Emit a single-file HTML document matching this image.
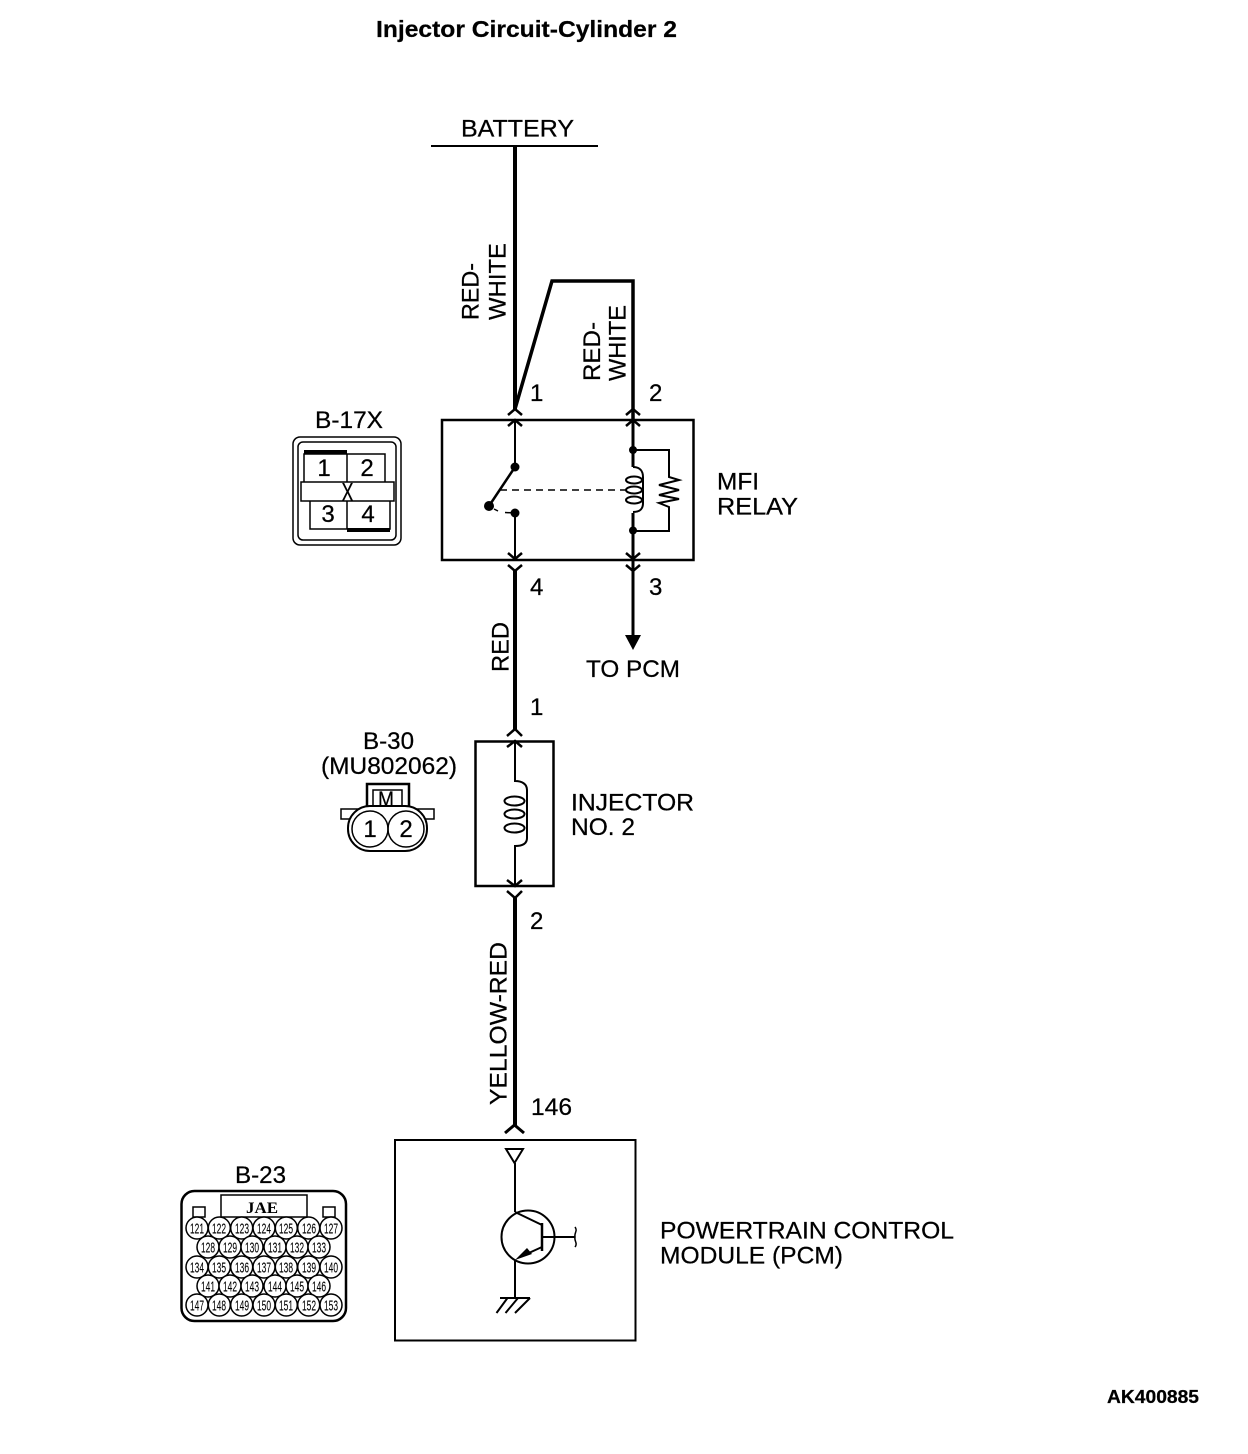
<!DOCTYPE html>
<html>
<head>
<meta charset="utf-8">
<style>
html,body{margin:0;padding:0;background:#fff}
svg{display:block}
text{font-family:"Liberation Sans",sans-serif;fill:#000;stroke:#000;stroke-width:.25px}
.t{font-size:24px}
.n{font-size:15px;stroke-width:.1px}
.c{text-anchor:middle}
</style>
</head>
<body>
<svg xmlns="http://www.w3.org/2000/svg" width="1248" height="1454" viewBox="0 0 1248 1454">
<rect width="1248" height="1454" fill="#fff"/>

<!-- headings -->
<text x="376" y="37" font-size="23" font-weight="bold" textLength="301" lengthAdjust="spacingAndGlyphs">Injector Circuit-Cylinder 2</text>
<text x="1107" y="1403" font-size="18" font-weight="bold" textLength="92" lengthAdjust="spacingAndGlyphs">AK400885</text>

<!-- main labels -->
<text class="t" x="461" y="136.500" textLength="113" lengthAdjust="spacingAndGlyphs">BATTERY</text>
<text class="t" x="717" y="489.500" textLength="42" lengthAdjust="spacingAndGlyphs">MFI</text>
<text class="t" x="717" y="514.500" textLength="81" lengthAdjust="spacingAndGlyphs">RELAY</text>
<text class="t" x="586" y="677" textLength="94" lengthAdjust="spacingAndGlyphs">TO PCM</text>
<text class="t" x="571" y="810.500" textLength="123" lengthAdjust="spacingAndGlyphs">INJECTOR</text>
<text class="t" x="571" y="835" textLength="64" lengthAdjust="spacingAndGlyphs">NO. 2</text>
<text class="t" x="660" y="1238.500" textLength="294" lengthAdjust="spacingAndGlyphs">POWERTRAIN CONTROL</text>
<text class="t" x="660" y="1263.500" textLength="183" lengthAdjust="spacingAndGlyphs">MODULE (PCM)</text>
<text class="t" x="315" y="428" textLength="68" lengthAdjust="spacingAndGlyphs">B-17X</text>
<text class="t" x="363" y="749" textLength="51" lengthAdjust="spacingAndGlyphs">B-30</text>
<text class="t" x="321" y="774" textLength="136" lengthAdjust="spacingAndGlyphs">(MU802062)</text>
<text class="t" x="235" y="1183" textLength="51" lengthAdjust="spacingAndGlyphs">B-23</text>

<!-- pin numbers -->
<text class="t" x="530" y="401">1</text>
<text class="t" x="649" y="401">2</text>
<text class="t" x="530" y="595">4</text>
<text class="t" x="649" y="595">3</text>
<text class="t" x="530" y="715">1</text>
<text class="t" x="530" y="929">2</text>
<text class="t" x="531" y="1115" textLength="41" lengthAdjust="spacingAndGlyphs">146</text>

<!-- rotated wire labels -->
<text class="t" transform="translate(478.500,320) rotate(-90)" textLength="57" lengthAdjust="spacingAndGlyphs">RED-</text>
<text class="t" transform="translate(505.500,320) rotate(-90)" textLength="77" lengthAdjust="spacingAndGlyphs">WHITE</text>
<text class="t" transform="translate(600,381) rotate(-90)" textLength="59" lengthAdjust="spacingAndGlyphs">RED-</text>
<text class="t" transform="translate(625.500,381) rotate(-90)" textLength="76" lengthAdjust="spacingAndGlyphs">WHITE</text>
<text class="t" transform="translate(508.500,672) rotate(-90)" textLength="50" lengthAdjust="spacingAndGlyphs">RED</text>
<text class="t" transform="translate(506.500,1105) rotate(-90)" textLength="163" lengthAdjust="spacingAndGlyphs">YELLOW-RED</text>

<!-- battery bar and wires -->
<g fill="none" stroke="#000">
<path d="M431 146H598" stroke-width="2"/>
<path d="M515 146V410" stroke-width="4"/>
<path d="M515 409L552 281H633V420" stroke-width="3.500"/>
<path d="M515 571V729" stroke-width="4"/>
<path d="M515 898V1125" stroke-width="4"/>
<path d="M633 560V636" stroke-width="3"/>

<!-- boxes -->
<rect x="442" y="420" width="251.500" height="140" stroke-width="2.500"/>
<rect x="475.500" y="741.500" width="78" height="144.500" stroke-width="2.500"/>
<rect x="395" y="1140" width="240.500" height="200.500" stroke-width="2"/>

<!-- chevrons -->
<g stroke-width="2.500">
<path d="M508 415L515 409L522 415M508 426L515 420L522 426"/>
<path d="M626 415L633 409L640 415M626 426L633 420L640 426"/>
<path d="M508 553L515 559L522 553M508 565L515 571L522 565"/>
<path d="M626 553L633 559L640 553M626 565L633 571L640 565"/>
<path d="M507 736L515 729L522 736M507 747L515 741L522 747"/>
<path d="M507 880L515 886L522 880M507 891L515 898L522 891"/>
<path d="M505 1133L514.500 1125L524 1133" stroke-width="3"/>
</g>

<!-- relay switch -->
<path d="M515 420V467" stroke-width="2"/>
<path d="M515 513V560" stroke-width="2"/>
<path d="M515 467L489 506" stroke-width="2.500"/>
<path d="M494 509L498 511M505 512.500L515 513" stroke-width="1.500"/>
<path d="M500 490H630" stroke-width="1.500" stroke-dasharray="7 5"/>

<!-- relay coil and resistor -->
<path d="M633 420V467M633 513V560" stroke-width="3"/>
<path d="M633 467C640 467 643 471 643 477V503C643 509 640 512 633 512" stroke-width="2"/>
<ellipse cx="634" cy="480" rx="8" ry="3.500" stroke-width="2"/>
<ellipse cx="634" cy="490" rx="8" ry="3.500" stroke-width="2"/>
<ellipse cx="634" cy="500" rx="8" ry="3.500" stroke-width="2"/>
<path d="M633 450H669V477L679 480L659 485L679 490L659 495L679 499L659 503L669 507V531H633" stroke-width="2"/>

<!-- injector coil -->
<path d="M515 741V781C522 781 527 784 527 790V838C527 844 522 846 515 846V886" stroke-width="2"/>
<ellipse cx="514.500" cy="801" rx="10" ry="4.500" stroke-width="2"/>
<ellipse cx="514.500" cy="814" rx="10" ry="4.500" stroke-width="2"/>
<ellipse cx="514.500" cy="828" rx="10" ry="4.500" stroke-width="2"/>

<!-- transistor -->
<path d="M506 1149H523L514.500 1163Z" stroke-width="2"/>
<path d="M515 1163V1212" stroke-width="2"/>
<circle cx="528" cy="1237" r="26.500" stroke-width="2"/>
<path d="M515 1212L542 1225" stroke-width="2"/>
<path d="M542 1223V1251" stroke-width="2.500"/>
<path d="M542 1237H575" stroke-width="2"/>
<path d="M575 1227C578 1231 574 1233 575 1237C574 1241 578 1243 575 1247" stroke-width="1.500"/>
<path d="M542 1247L520 1257" stroke-width="2"/>
<path d="M515 1260V1298" stroke-width="2"/>
<path d="M500 1298H530M507.500 1298L496.500 1313M518 1298L505.500 1313M530 1298L515 1313" stroke-width="2"/>

<!-- B-17X connector -->
<rect x="293" y="437" width="108" height="108" rx="7" stroke-width="1.500"/>
<rect x="298" y="442" width="98" height="98" rx="5" stroke-width="1.500"/>
<path d="M304 482V454H385V482M347 454V482" stroke-width="1.500"/>
<path d="M310 501V529H390V501M347 501V529" stroke-width="1.500"/>
<rect x="301" y="482" width="93" height="19" stroke-width="1.500"/>
<path d="M304 452H347M347 530H390" stroke-width="4"/>

<!-- B-30 connector -->
<path d="M367 809V784H409V809" stroke-width="2.500"/>
<path d="M373 809V790H402V809" stroke-width="1.500"/>
<path d="M351 819H341V809H425M425 819H434V809H425" stroke-width="1.500"/>
<rect x="348" y="806" width="79" height="45" rx="22" fill="#fff" stroke-width="2"/>
<circle cx="370" cy="829" r="18" stroke-width="1.500"/>
<circle cx="406" cy="829" r="18" stroke-width="1.500"/>

<!-- B-23 connector -->
<rect x="181.500" y="1191" width="164.500" height="130" rx="13" stroke-width="2.500"/>
<rect x="221" y="1195" width="86" height="22" stroke-width="1.500"/>
<rect x="193" y="1207" width="12" height="10" stroke-width="1.500"/>
<rect x="323" y="1207" width="12" height="10" stroke-width="1.500"/>
<g stroke-width="1.500" fill="#fff">
<circle cx="197" cy="1228" r="11"/><circle cx="219.300" cy="1228" r="11"/><circle cx="241.700" cy="1228" r="11"/><circle cx="264" cy="1228" r="11"/><circle cx="286.300" cy="1228" r="11"/><circle cx="308.700" cy="1228" r="11"/><circle cx="331" cy="1228" r="11"/>
<circle cx="208" cy="1247" r="11"/><circle cx="230" cy="1247" r="11"/><circle cx="252" cy="1247" r="11"/><circle cx="275" cy="1247" r="11"/><circle cx="297" cy="1247" r="11"/><circle cx="319" cy="1247" r="11"/>
<circle cx="197" cy="1267" r="11"/><circle cx="219.300" cy="1267" r="11"/><circle cx="241.700" cy="1267" r="11"/><circle cx="264" cy="1267" r="11"/><circle cx="286.300" cy="1267" r="11"/><circle cx="308.700" cy="1267" r="11"/><circle cx="331" cy="1267" r="11"/>
<circle cx="208" cy="1286" r="11"/><circle cx="230" cy="1286" r="11"/><circle cx="252" cy="1286" r="11"/><circle cx="275" cy="1286" r="11"/><circle cx="297" cy="1286" r="11"/><circle cx="319" cy="1286" r="11"/>
<circle cx="197" cy="1305" r="11"/><circle cx="219.300" cy="1305" r="11"/><circle cx="241.700" cy="1305" r="11"/><circle cx="264" cy="1305" r="11"/><circle cx="286.300" cy="1305" r="11"/><circle cx="308.700" cy="1305" r="11"/><circle cx="331" cy="1305" r="11"/>
</g>
</g>

<!-- solid dots and arrowheads -->
<circle cx="515" cy="467" r="4.500"/>
<circle cx="489" cy="506" r="5"/>
<circle cx="515" cy="513" r="4.500"/>
<circle cx="633" cy="450" r="4"/>
<circle cx="633" cy="530.500" r="4"/>
<path d="M625 635H641L633 650Z"/>
<path d="M515 1260L527 1248L532 1254Z"/>

<!-- connector cavity text -->
<text class="t c" x="324" y="476">1</text>
<text class="t c" x="367" y="476">2</text>
<text class="t c" x="328" y="522">3</text>
<text class="t c" x="368" y="522">4</text>
<text x="341.500" y="501" font-size="26" textLength="12" lengthAdjust="spacingAndGlyphs">X</text>
<text x="378" y="806" font-size="21" textLength="16" lengthAdjust="spacingAndGlyphs">M</text>
<text class="c" x="370" y="837" font-size="24">1</text>
<text class="c" x="406" y="837" font-size="24">2</text>
<text x="246" y="1213" font-size="16" font-weight="bold" style="font-family:'Liberation Serif',serif;stroke-width:0" textLength="32" lengthAdjust="spacingAndGlyphs">JAE</text>

<g class="n">
<text class="n" x="190" y="1233.500" textLength="14" lengthAdjust="spacingAndGlyphs">121</text><text class="n" x="212" y="1233.500" textLength="14" lengthAdjust="spacingAndGlyphs">122</text><text class="n" x="235" y="1233.500" textLength="14" lengthAdjust="spacingAndGlyphs">123</text><text class="n" x="257" y="1233.500" textLength="14" lengthAdjust="spacingAndGlyphs">124</text><text class="n" x="279" y="1233.500" textLength="14" lengthAdjust="spacingAndGlyphs">125</text><text class="n" x="302" y="1233.500" textLength="14" lengthAdjust="spacingAndGlyphs">126</text><text class="n" x="324" y="1233.500" textLength="14" lengthAdjust="spacingAndGlyphs">127</text>
<text class="n" x="201" y="1252.500" textLength="14" lengthAdjust="spacingAndGlyphs">128</text><text class="n" x="223" y="1252.500" textLength="14" lengthAdjust="spacingAndGlyphs">129</text><text class="n" x="245" y="1252.500" textLength="14" lengthAdjust="spacingAndGlyphs">130</text><text class="n" x="268" y="1252.500" textLength="14" lengthAdjust="spacingAndGlyphs">131</text><text class="n" x="290" y="1252.500" textLength="14" lengthAdjust="spacingAndGlyphs">132</text><text class="n" x="312" y="1252.500" textLength="14" lengthAdjust="spacingAndGlyphs">133</text>
<text class="n" x="190" y="1272.500" textLength="14" lengthAdjust="spacingAndGlyphs">134</text><text class="n" x="212" y="1272.500" textLength="14" lengthAdjust="spacingAndGlyphs">135</text><text class="n" x="235" y="1272.500" textLength="14" lengthAdjust="spacingAndGlyphs">136</text><text class="n" x="257" y="1272.500" textLength="14" lengthAdjust="spacingAndGlyphs">137</text><text class="n" x="279" y="1272.500" textLength="14" lengthAdjust="spacingAndGlyphs">138</text><text class="n" x="302" y="1272.500" textLength="14" lengthAdjust="spacingAndGlyphs">139</text><text class="n" x="324" y="1272.500" textLength="14" lengthAdjust="spacingAndGlyphs">140</text>
<text class="n" x="201" y="1291.500" textLength="14" lengthAdjust="spacingAndGlyphs">141</text><text class="n" x="223" y="1291.500" textLength="14" lengthAdjust="spacingAndGlyphs">142</text><text class="n" x="245" y="1291.500" textLength="14" lengthAdjust="spacingAndGlyphs">143</text><text class="n" x="268" y="1291.500" textLength="14" lengthAdjust="spacingAndGlyphs">144</text><text class="n" x="290" y="1291.500" textLength="14" lengthAdjust="spacingAndGlyphs">145</text><text class="n" x="312" y="1291.500" textLength="14" lengthAdjust="spacingAndGlyphs">146</text>
<text class="n" x="190" y="1310.500" textLength="14" lengthAdjust="spacingAndGlyphs">147</text><text class="n" x="212" y="1310.500" textLength="14" lengthAdjust="spacingAndGlyphs">148</text><text class="n" x="235" y="1310.500" textLength="14" lengthAdjust="spacingAndGlyphs">149</text><text class="n" x="257" y="1310.500" textLength="14" lengthAdjust="spacingAndGlyphs">150</text><text class="n" x="279" y="1310.500" textLength="14" lengthAdjust="spacingAndGlyphs">151</text><text class="n" x="302" y="1310.500" textLength="14" lengthAdjust="spacingAndGlyphs">152</text><text class="n" x="324" y="1310.500" textLength="14" lengthAdjust="spacingAndGlyphs">153</text>
</g>
</svg>
</body>
</html>
